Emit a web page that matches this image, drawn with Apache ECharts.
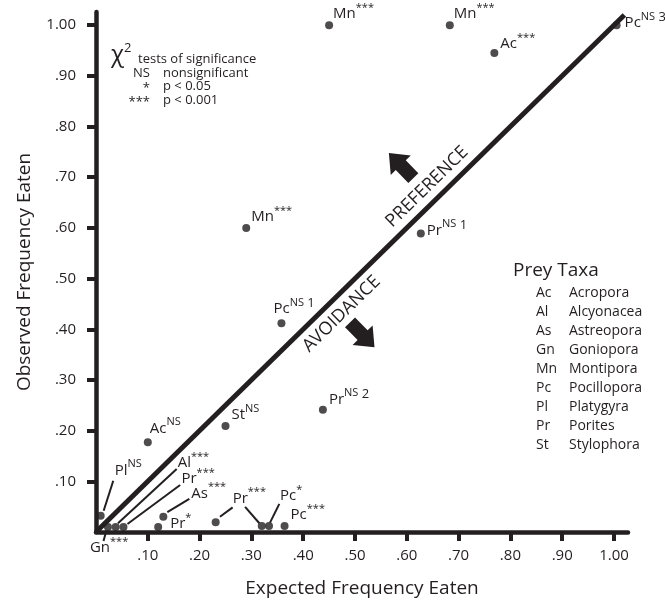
<!DOCTYPE html>
<html><head><meta charset="utf-8">
<script src="https://cdn.jsdelivr.net/npm/echarts@6/dist/echarts.min.js"></script>
<style>html,body{margin:0;padding:0;background:#fff}#c{width:665px;height:606px}</style>
</head><body><div id="c"></div>
<script>
// ---------------- data ----------------
const taxa        = ['Mn','Mn','Ac','Pc','Mn','Pr','Pc','Pr','St','Ac','Pl','Gn','Al','Pr','As','Pr','Pr','Pr','Pc','Pc'];
const expected    = [0.450,0.683,0.769,1.005,0.290,0.627,0.358,0.438,0.250,0.100,0.009,0.023,0.038,0.053,0.130,0.120,0.231,0.320,0.334,0.364];
const observed    = [1.000,1.000,0.945,1.000,0.600,0.589,0.412,0.241,0.209,0.177,0.032,0.010,0.010,0.010,0.030,0.010,0.019,0.012,0.012,0.012];
const significance= ['***','***','***','NS','***','NS','NS','NS','NS','NS','NS','***','***','***','***','*','***','***','*','***'];
const caseNumber  = ['','','','3','','1','1','2','','','','','','','','','','','',''];
const tickValues  = [0.1,0.2,0.3,0.4,0.5,0.6,0.7,0.8,0.9,1.0];
const tickLabels  = ['.10','.20','.30','.40','.50','.60','.70','.80','.90','1.00'];
const taxaCodes   = ['Ac','Al','As','Gn','Mn','Pc','Pl','Pr','St'];
const taxaNames   = ['Acropora','Alcyonacea','Astreopora','Goniopora','Montipora','Pocillopora','Platygyra','Porites','Stylophora'];
const sigSymbols  = ['NS','*','***'];
const sigMeanings = ['nonsignificant','p < 0.05','p < 0.001'];
const identityLine = [0, 1.02];

// ---------------- layout (pixel offsets from each point) ----------------
const labelOffsets = [
  [4,-11],[4,-11],[6,-9],[8,-2],[5,-11],[6,-3],[-8,-14],[6,-10],[6,-11],[2,-14],
  [14,-45],[-18,21],[62,-64],[58,-48],[28,-23],[12,-3],[17,-24],null,[11,-30],[6,-11]
];
const leaderLines = [
  [10, 3,-5, 12.6,-35],
  [11, -1.5,3.5, -4.4,14],
  [12, 2.3,-3.7, 61,-58],
  [13, 4,-3, 56.7,-42],
  [14, 4,-4.7, 26,-18],
  [16, 4.3,-5.6, 17,-15],
  [17, -2.4,-2.7, -16.7,-19],
  [18, 1,-3.3, 10.3,-22]
];

const ink = '#231f20';
const FF = "'Open Sans', sans-serif";

const chart = echarts.init(document.getElementById('c'), null, {renderer:'canvas'});

const option = {
  animation: false,
  backgroundColor: '#fff',
  grid: {left: 96, right: 37, top: 12, bottom: 74},
  xAxis: {
    type: 'value', min: 0, max: 1.027,
    name: 'Expected Frequency Eaten', nameLocation: 'middle', nameGap: 47,
    nameTextStyle: {fontSize: 19, fontFamily: FF, color: ink},
    axisLine: {onZero: false, lineStyle: {color: ink, width: 4.5}},
    axisTick: {customValues: tickValues, length: 9, lineStyle: {color: ink, width: 4}},
    axisLabel: {customValues: tickValues, margin: 16, fontSize: 15, fontFamily: FF, color: ink,
      formatter: v => tickLabels[Math.round(v*10)-1] || ''},
    splitLine: {show: false}
  },
  yAxis: {
    type: 'value', min: 0, max: 1.026,
    name: 'Observed Frequency Eaten', nameLocation: 'middle', nameGap: 62,
    nameTextStyle: {fontSize: 19, fontFamily: FF, color: ink},
    axisLine: {onZero: false, lineStyle: {color: ink, width: 4.5}},
    axisTick: {customValues: tickValues, length: 9, lineStyle: {color: ink, width: 4}},
    axisLabel: {customValues: tickValues, margin: 20, fontSize: 15, fontFamily: FF, color: ink,
      formatter: v => tickLabels[Math.round(v*10)-1] || ''},
    splitLine: {show: false}
  },
  series: [
    {type: 'line', data: identityLine.map(v => [v, v]), symbol: 'none', clip: false, silent: true,
     lineStyle: {color: ink, width: 5}, z: 2},
    {type: 'scatter', data: expected.map((x,i) => [x, observed[i]]), symbolSize: 8, clip: false,
     itemStyle: {color: ink}, z: 5}
  ]
};
chart.setOption(option);

const px = (x,y) => chart.convertToPixel({gridIndex: 0}, [x, y]);
const rich = {
  b: {fontSize: 15, fontFamily: FF, fill: ink, color: ink, lineHeight: 24},
  s: {fontSize: 11, fontFamily: FF, fill: ink, color: ink, lineHeight: 8, verticalAlign: 'top'},
  n: {fontSize: 13, fontFamily: FF, fill: ink, color: ink, lineHeight: 9, verticalAlign: 'top'}
};
const g = [];
leaderLines.forEach(([i,x1,y1,x2,y2]) => {
  const p = px(expected[i], observed[i]);
  g.push({type:'line', shape:{x1:p[0]+x1, y1:p[1]+y1, x2:p[0]+x2, y2:p[1]+y2},
    style:{stroke: ink, lineWidth: 2}, z: 3});
});
taxa.forEach((t,i) => {
  const o = labelOffsets[i]; if (!o) return;
  const p = px(expected[i], observed[i]);
  let txt = '{b|' + t + '}{s|' + significance[i] + '}';
  if (caseNumber[i]) txt += '{n| ' + caseNumber[i] + '}';
  g.push({type:'text', x: p[0]+o[0], y: p[1]+o[1], z: 10,
    style:{text: txt, rich: rich, align:'left', verticalAlign:'middle', fill: ink}});
});
// PREFERENCE / AVOIDANCE text and arrows
const a0 = px(0,0), a1 = px(1,1);
const ang = Math.atan2(a0[1]-a1[1], a1[0]-a0[0]);
const texts = [['PREFERENCE', 0.639, 0.681], ['AVOIDANCE', 0.474, 0.430]];
texts.forEach(([t,x,y]) => {
  const p = px(x,y);
  g.push({type:'text', x:p[0], y:p[1], rotation: ang, z: 10,
    style:{text:t, fontSize:18, fontFamily:FF, fill:ink, align:'center', verticalAlign:'middle'}});
});
const arrowShape = [[-17.5,-7],[0.5,-7],[0.5,-14],[17.5,0],[0.5,14],[0.5,7],[-17.5,7]];
const arrows = [[0.589, 0.723, ang + Math.PI/2], [0.514, 0.389, ang - Math.PI/2]];
arrows.forEach(([x,y,r]) => {
  const p = px(x,y);
  g.push({type:'polygon', x:p[0], y:p[1], rotation:r, shape:{points: arrowShape},
    style:{fill: ink}, z: 10});
});
// Chi-square legend
g.push({type:'text', x:111, y:55, z:10, style:{text:'{c|χ}{t|2}', rich:{
  c:{fontSize:24, fontFamily:FF, fill:ink, lineHeight:26},
  t:{fontSize:13, fontFamily:FF, fill:ink, lineHeight:12, verticalAlign:'top'}}, verticalAlign:'middle'}});
g.push({type:'text', x:138, y:59, z:10, style:{text:'tests of significance', fontSize:13, fontFamily:FF, fill:ink, verticalAlign:'middle'}});
sigSymbols.forEach((s,i) => {
  const y = 73 + i*13.5;
  g.push({type:'text', x:150, y: y + (s === 'NS' ? 0 : 2), z:10, style:{text:s, fontSize:13, fontFamily:FF, fill:ink, align:'right', verticalAlign:'middle'}});
  g.push({type:'text', x:163, y:y, z:10, style:{text:sigMeanings[i], fontSize:13, fontFamily:FF, fill:ink, align:'left', verticalAlign:'middle'}});
});
// Prey taxa legend
g.push({type:'text', x:513, y:271, z:10, style:{text:'Prey Taxa', fontSize:19, fontFamily:FF, fill:ink, verticalAlign:'middle'}});
taxaCodes.forEach((c,i) => {
  const y = 293 + i*19;
  g.push({type:'text', x:536, y:y, z:10, style:{text:c, fontSize:14, fontFamily:FF, fill:ink, verticalAlign:'middle'}});
  g.push({type:'text', x:569, y:y, z:10, style:{text:taxaNames[i], fontSize:14, fontFamily:FF, fill:ink, verticalAlign:'middle'}});
});
chart.setOption({graphic: {elements: g}});
</script>
</body></html>
